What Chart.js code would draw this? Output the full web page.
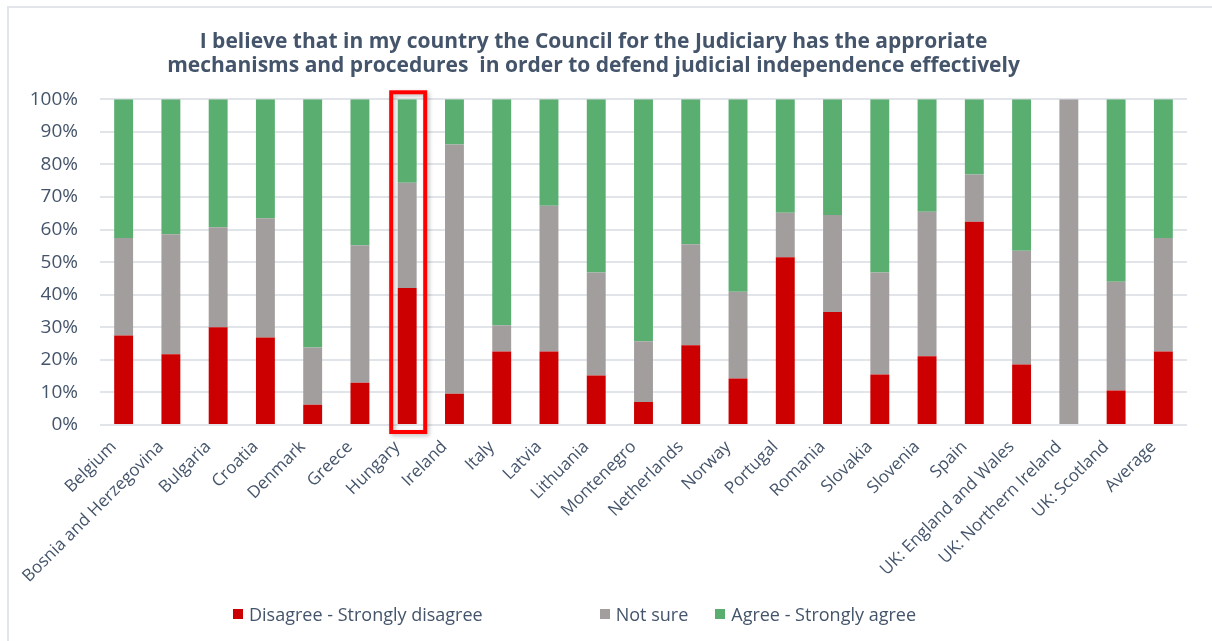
<!DOCTYPE html>
<html>
<head>
<meta charset="utf-8">
<script src="https://cdn.jsdelivr.net/npm/chart.js@4.4.0/dist/chart.umd.min.js"></script>
<style>
  html, body { margin: 0; padding: 0; background: #fff; }
  #wrap { position: relative; width: 1212px; height: 641px; }
  #frame { position: absolute; left: 7px; top: 6px; right: 0; bottom: 0;
           border-top: 2px solid #e2e5ea; border-left: 2px solid #e2e5ea; pointer-events: none; }
  #legend { position: absolute; top: 602px; left: 233px; display: flex;
            font-family: "Open Sans", sans-serif; font-size: 18px; color: #44546a; }
  #legend .item { display: flex; align-items: center; }
  #legend .box { width: 10px; height: 10px; margin-right: 6px; }
</style>
</head>
<body>
<div id="wrap">
  <canvas id="chart" width="1212" height="641"></canvas>
  <div id="frame"></div>
  <div id="legend"></div>
</div>
<script>
const categories = ["Belgium", "Bosnia and Herzegovina", "Bulgaria", "Croatia", "Denmark", "Greece",
  "Hungary", "Ireland", "Italy", "Latvia", "Lithuania", "Montenegro", "Netherlands", "Norway",
  "Portugal", "Romania", "Slovakia", "Slovenia", "Spain", "UK: England and Wales",
  "UK: Northern Ireland", "UK: Scotland", "Average"];

const disagree = [27.5, 21.7, 30.0, 26.9, 6.2, 13.0, 42.1, 9.6, 22.6, 22.6, 15.2, 7.1,
  24.5, 14.3, 51.5, 34.7, 15.5, 21.1, 62.4, 18.6, 0, 10.6, 22.6];
const notSure = [29.9, 36.9, 30.7, 36.6, 17.6, 42.2, 32.3, 76.5, 8.0, 44.7, 31.6, 18.6,
  31.0, 26.6, 13.7, 29.8, 31.3, 44.4, 14.5, 34.9, 100, 33.4, 34.8];
const agree = [42.6, 41.4, 39.3, 36.5, 76.2, 44.8, 25.6, 13.9, 69.4, 32.7, 53.2, 74.3,
  44.5, 59.1, 34.8, 35.5, 53.2, 34.5, 23.1, 46.5, 0, 56.0, 42.6];

const seriesLabels = ["Disagree - Strongly disagree", "Not sure", "Agree - Strongly agree"];
const seriesColors = ["#cc0000", "#a29e9d", "#59ae70"];
const highlighted = "Hungary";

const titleLines = [
  "I believe that in my country the Council for the Judiciary has the approriate",
  "mechanisms and procedures  in order to defend judicial independence effectively"
];

const textColor = "#44546a";
const FONT = "'Open Sans', sans-serif";

// red frame round the highlighted country
const highlightBox = {
  id: "highlightBox",
  afterDatasetsDraw(chart) {
    const { ctx, scales: { x, y } } = chart;
    const idx = categories.indexOf(highlighted);
    if (idx < 0) return;
    const cx = x.getPixelForValue(idx);
    const top = y.getPixelForValue(100) - 7;
    const bottom = y.getPixelForValue(0) + 7;
    ctx.save();
    ctx.shadowColor = "rgba(0,0,0,0.25)";
    ctx.shadowBlur = 4;
    ctx.shadowOffsetX = 2;
    ctx.shadowOffsetY = 2;
    ctx.strokeStyle = "#ff0000";
    ctx.lineWidth = 4;
    ctx.strokeRect(cx - 16, top, 34, bottom - top);
    ctx.restore();
  }
};

const datasets = [disagree, notSure, agree].map((data, i) => ({
  label: seriesLabels[i],
  data,
  backgroundColor: seriesColors[i],
  barPercentage: 0.4,
  categoryPercentage: 1.0,
}));

new Chart(document.getElementById("chart").getContext("2d"), {
  type: "bar",
  data: { labels: categories, datasets },
  options: {
    responsive: false,
    animation: false,
    layout: { padding: { left: 0, right: 25, top: 30, bottom: 46 } },
    plugins: {
      legend: { display: false },
      tooltip: { enabled: false },
      title: {
        display: true,
        text: titleLines,
        color: textColor,
        font: { family: FONT, size: 21, weight: "bold", lineHeight: 1.15 },
        padding: { top: 0, bottom: 21 },
      },
    },
    scales: {
      x: {
        stacked: true,
        grid: { display: false },
        border: { display: false },
        ticks: {
          color: textColor,
          font: { family: FONT, size: 17 },
          minRotation: 45,
          maxRotation: 45,
          autoSkip: false,
          padding: 4,
          labelOffset: -10,
        },
        afterFit(scale) { scale.height = 170; },
      },
      y: {
        stacked: true,
        min: 0,
        max: 100,
        grid: { color: "#e1e4e9", lineWidth: 2, drawTicks: false },
        border: { display: false },
        ticks: {
          stepSize: 10,
          color: textColor,
          font: { family: FONT, size: 19 },
          padding: 22,
          callback: v => v + "%",
        },
        afterFit(scale) { scale.width = 100; },
      },
    },
  },
  plugins: [highlightBox],
});

// legend drawn below the chart
const legend = document.getElementById("legend");
const gaps = [117, 27, 0];
seriesLabels.forEach((label, i) => {
  const item = document.createElement("div");
  item.className = "item";
  item.style.marginRight = gaps[i] + "px";
  const box = document.createElement("span");
  box.className = "box";
  box.style.background = seriesColors[i];
  item.appendChild(box);
  item.appendChild(document.createTextNode(label));
  legend.appendChild(item);
});
</script>
</body>
</html>
